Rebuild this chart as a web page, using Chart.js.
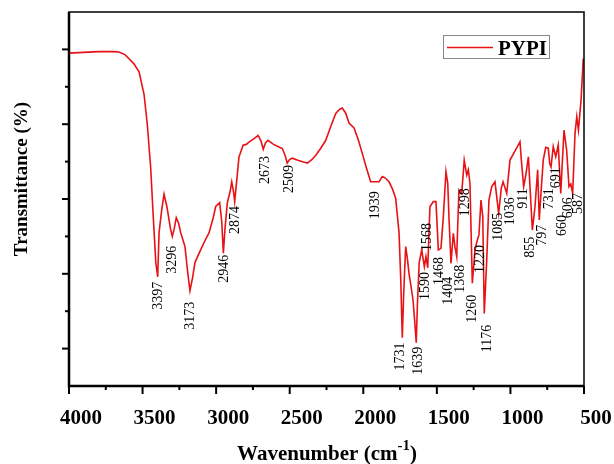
<!DOCTYPE html>
<html>
<head>
<meta charset="utf-8">
<script src="https://cdn.jsdelivr.net/npm/chart.js@4.4.1/dist/chart.umd.min.js"></script>
<style>
  html, body { margin: 0; padding: 0; background: #fff; }
  #wrap { width: 614px; height: 464px; }
</style>
</head>
<body>
<div id="wrap"><canvas id="ftirChart" width="614" height="464"></canvas></div>
<script>
// FTIR 스펙트럼 (PYPI) - 그림에서 읽은 값
const wavenumber = [
  4000, 3900, 3800, 3700, 3660, 3620, 3592, 3560, 3524, 3490, 3468, 3445, 3427, 3410, 3397, 3388,
  3370, 3354, 3335, 3310, 3298, 3285, 3271, 3255, 3241, 3212, 3195, 3178, 3160, 3144, 3110, 3083,
  3048, 3020, 3003, 2976, 2962, 2951, 2940, 2924, 2905, 2894, 2882, 2874, 2860, 2845, 2817, 2795,
  2777, 2740, 2715, 2695, 2680, 2665, 2648, 2610, 2573, 2550, 2530, 2517, 2500, 2482, 2440, 2400,
  2380, 2350, 2323, 2290, 2255, 2220, 2187, 2160, 2143, 2120, 2097, 2063, 2035, 2007, 1980, 1950,
  1920, 1893, 1871, 1850, 1825, 1800, 1780, 1757, 1745, 1735, 1725, 1712, 1700, 1689, 1675, 1662,
  1650, 1640, 1632, 1620, 1603, 1585, 1574, 1562, 1547, 1524, 1506, 1490, 1472, 1456, 1438, 1426,
  1417, 1404, 1388, 1377, 1365, 1350, 1331, 1314, 1297, 1286, 1275, 1259, 1241, 1225, 1214, 1200,
  1188, 1178, 1161, 1146, 1127, 1105, 1080, 1062, 1050, 1025, 1003, 960, 935, 925, 910, 895,
  878, 851, 833, 815, 804, 790, 777, 760, 743, 733, 724, 709, 692, 675, 658, 636,
  618, 602, 590, 577, 561, 549, 538, 520, 505
];
const transmittance = [
  89.0, 89.2, 89.4, 89.4, 89.3, 88.6, 87.5, 86.2, 84.0, 78.0, 70.0, 58.5, 45.0, 33.0, 29.2, 41.0,
  47.0, 51.3, 48.0, 42.0, 40.0, 42.0, 45.0, 43.5, 41.0, 37.3, 31.0, 25.5, 29.0, 33.0, 36.0, 38.3,
  41.0, 45.0, 48.0, 49.0, 44.0, 35.5, 42.0, 49.0, 52.0, 54.6, 52.0, 49.3, 55.0, 61.2, 64.4, 64.6,
  65.2, 66.2, 67.0, 65.5, 63.3, 65.0, 65.7, 64.6, 63.9, 63.5, 61.5, 59.6, 60.6, 60.9, 60.3, 59.8,
  59.6, 60.5, 61.7, 63.5, 65.7, 69.5, 72.9, 74.0, 74.3, 73.0, 70.3, 69.0, 66.0, 62.2, 58.5, 54.6,
  54.6, 54.6, 56.0, 55.6, 54.6, 52.5, 50.2, 41.0, 28.0, 12.9, 25.0, 37.3, 34.0, 30.0, 26.5, 23.0,
  17.0, 11.6, 22.0, 33.0, 36.4, 31.9, 34.6, 31.6, 47.9, 49.3, 49.3, 36.4, 36.8, 45.3, 57.3, 54.2,
  44.4, 32.8, 40.8, 37.2, 34.6, 52.4, 51.5, 60.4, 56.4, 57.8, 54.2, 27.5, 36.4, 39.0, 40.4, 49.7,
  45.3, 19.4, 33.7, 49.7, 53.3, 54.6, 46.2, 52.9, 54.6, 51.5, 60.4, 63.5, 65.3, 60.0, 53.3, 56.5,
  61.3, 41.7, 48.0, 57.8, 44.4, 53.0, 60.4, 63.8, 63.6, 59.5, 58.6, 64.0, 61.3, 64.4, 51.5, 68.4,
  63.1, 53.3, 54.0, 51.5, 67.6, 72.0, 68.4, 76.5, 87.5
];

// 피크 라벨: 글자, 라벨 위치(파수), 라벨 윗끝(투과율)
const peakText = ['3397', '3296', '3173', '2946', '2874', '2673', '2509', '1939', '1731', '1639',
  '1590', '1568', '1468', '1404', '1368', '1298', '1260', '1220', '1176', '1085', '1036',
  '911', '855', '797', '731', '691', '660', '606', '587'];
const peakX = [3393, 3298, 3173, 2942, 2867, 2668, 2505, 1920, 1746, 1626,
  1576, 1565, 1485, 1422, 1338, 1304, 1259, 1202, 1157, 1082, 998,
  912, 862, 783, 733, 688, 647, 607, 539];
const peakY = [27.9, 37.5, 22.5, 35.1, 48.1, 61.5, 59.1, 52.1, 11.6, 10.5,
  30.5, 43.6, 34.5, 29.2, 32.4, 52.9, 24.4, 37.7, 16.4, 46.3, 50.5,
  52.9, 39.9, 43.1, 52.9, 58.5, 45.7, 50.5, 51.6];

const seriesName = 'PYPI';
const xTitle = 'Wavenumber (cm';
const xTitleSup = '-1';
const yTitle = 'Transmittance (%)';

const SERIF = "'Liberation Serif', 'Times New Roman', serif";
const LINE_RED = 'rgb(232, 18, 22)';

// 축 눈금, 테두리, 라벨, 범례 그리기
const decorPlugin = {
  id: 'decor',
  afterDraw(chart) {
    const ctx = chart.ctx;
    const area = chart.chartArea;
    const xs = chart.scales.x;
    const ys = chart.scales.y;
    ctx.save();

    // 테두리
    ctx.strokeStyle = '#000';
    ctx.lineWidth = 1.5;
    ctx.strokeRect(area.left, area.top, area.right - area.left, area.bottom - area.top);
    ctx.lineWidth = 2.5;
    ctx.beginPath();
    ctx.moveTo(area.left, area.top);
    ctx.lineTo(area.left, area.bottom);
    ctx.lineTo(area.right, area.bottom);
    ctx.stroke();

    // x 눈금 (큰 눈금 500, 작은 눈금 250)
    ctx.lineWidth = 2;
    for (let v = 500; v <= 4000; v += 250) {
      const px = xs.getPixelForValue(v);
      const len = v % 500 === 0 ? 8 : 4;
      ctx.beginPath();
      ctx.moveTo(px, area.bottom);
      ctx.lineTo(px, area.bottom + len);
      ctx.stroke();
    }
    // y 눈금
    for (let v = 10; v <= 90; v += 10) {
      const py = ys.getPixelForValue(v);
      const len = v % 20 === 10 ? 7 : 4;
      ctx.beginPath();
      ctx.moveTo(area.left, py);
      ctx.lineTo(area.left - len, py);
      ctx.stroke();
    }

    // 피크 라벨 (세로)
    ctx.fillStyle = '#000';
    ctx.font = '14px ' + SERIF;
    ctx.textAlign = 'right';
    ctx.textBaseline = 'middle';
    peakText.forEach((t, i) => {
      ctx.save();
      ctx.translate(xs.getPixelForValue(peakX[i]), ys.getPixelForValue(peakY[i]));
      ctx.rotate(-Math.PI / 2);
      ctx.fillText(t, 0, 0);
      ctx.restore();
    });

    // 범례
    ctx.strokeStyle = '#888';
    ctx.lineWidth = 1;
    ctx.strokeRect(443.5, 35.5, 106, 23);
    ctx.strokeStyle = LINE_RED;
    ctx.lineWidth = 1.5;
    ctx.beginPath();
    ctx.moveTo(447, 47.5);
    ctx.lineTo(493, 47.5);
    ctx.stroke();
    ctx.font = 'bold 21px ' + SERIF;
    ctx.textAlign = 'left';
    ctx.textBaseline = 'alphabetic';
    ctx.fillText(seriesName, 498, 55);

    // y축 제목
    ctx.font = 'bold 19px ' + SERIF;
    ctx.textAlign = 'center';
    ctx.textBaseline = 'middle';
    ctx.save();
    ctx.translate(22, 179);
    ctx.rotate(-Math.PI / 2);
    ctx.fillText(yTitle, 0, 0);
    ctx.restore();

    // x축 제목 (위첨자 포함)
    ctx.textBaseline = 'alphabetic';
    ctx.textAlign = 'left';
    const mainFont = 'bold 21px ' + SERIF;
    const supFont = 'bold 15px ' + SERIF;
    ctx.font = mainFont;
    const w1 = ctx.measureText(xTitle).width;
    const w3 = ctx.measureText(')').width;
    ctx.font = supFont;
    const w2 = ctx.measureText(xTitleSup).width;
    let tx = 327 - (w1 + w2 + w3) / 2;
    const baseY = 460;
    ctx.font = mainFont;
    ctx.fillText(xTitle, tx, baseY);
    tx += w1;
    ctx.font = supFont;
    ctx.fillText(xTitleSup, tx, baseY - 10);
    tx += w2;
    ctx.font = mainFont;
    ctx.fillText(')', tx, baseY);

    ctx.restore();
  }
};

const ctx = document.getElementById('ftirChart').getContext('2d');
const chart = new Chart(ctx, {
  type: 'line',
  data: {
    datasets: [{
      label: seriesName,
      data: wavenumber.map((w, i) => ({ x: w, y: transmittance[i] })),
      borderColor: LINE_RED,
      borderWidth: 1.6,
      pointRadius: 0,
      fill: false,
      tension: 0
    }]
  },
  options: {
    responsive: false,
    animation: false,
    layout: { padding: { top: 12, right: 30, left: 0, bottom: 0 } },
    plugins: {
      legend: { display: false },
      tooltip: { enabled: false }
    },
    scales: {
      x: {
        type: 'linear',
        reverse: true,
        min: 500,
        max: 4000,
        grid: { display: false, drawTicks: false },
        border: { display: false },
        ticks: {
          stepSize: 500,
          padding: 20,
          labelOffset: 12,
          color: '#000',
          font: { family: SERIF, size: 21, weight: 'bold' },
          maxRotation: 0,
          callback: (v) => String(v)  // 천 단위 쉼표 없이
        },
        afterFit(scale) {
          scale.height = 78;
          scale.paddingLeft = 0;
          scale.paddingRight = 0;
        }
      },
      y: {
        min: 0,
        max: 100,
        grid: { display: false, drawTicks: false },
        border: { display: false },
        ticks: { display: false },
        afterFit(scale) { scale.width = 69; }
      }
    }
  },
  plugins: [decorPlugin]
});
</script>
</body>
</html>
